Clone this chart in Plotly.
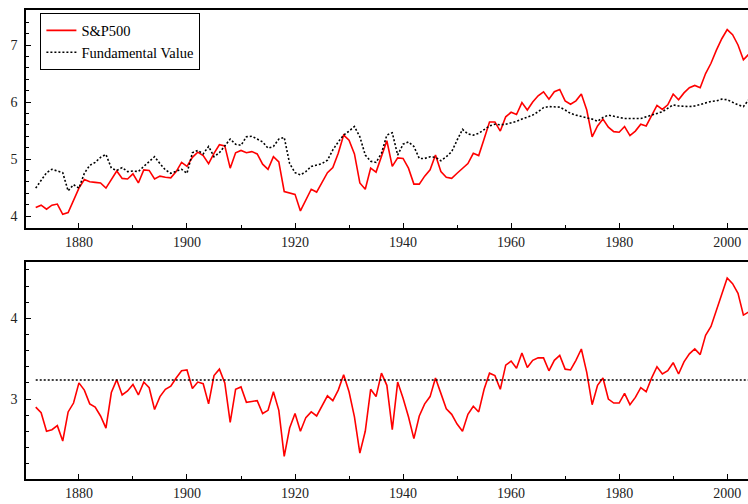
import plotly.graph_objects as go
from plotly.subplots import make_subplots

years = list(range(1872, 2005))

sp500 = [4.15, 4.19, 4.12, 4.19, 4.21, 4.03, 4.06, 4.28, 4.49, 4.64,
         4.60, 4.59, 4.58, 4.49, 4.64, 4.79, 4.66, 4.65, 4.74, 4.58,
         4.81, 4.80, 4.65, 4.70, 4.68, 4.67, 4.78, 4.94, 4.87, 5.03,
         5.12, 5.06, 4.92, 5.10, 5.25, 5.23, 4.84, 5.11, 5.15, 5.11,
         5.13, 5.09, 4.91, 4.82, 5.04, 4.95, 4.43, 4.40, 4.38, 4.09,
         4.28, 4.47, 4.42, 4.58, 4.76, 4.85, 5.10, 5.42, 5.33, 5.09,
         4.58, 4.47, 4.84, 4.77, 5.04, 5.32, 4.87, 5.02, 5.01, 4.84,
         4.56, 4.56, 4.70, 4.81, 5.07, 4.78, 4.68, 4.66, 4.75, 4.84,
         4.92, 5.10, 5.06, 5.35, 5.65, 5.65, 5.49, 5.74, 5.82, 5.78,
         5.99, 5.86, 6.00, 6.11, 6.18, 6.05, 6.18, 6.22, 6.02, 5.96,
         6.02, 6.14, 5.86, 5.39, 5.58, 5.70, 5.56, 5.48, 5.47, 5.57,
         5.41, 5.49, 5.61, 5.58, 5.77, 5.94, 5.87, 5.95, 6.14, 6.04,
         6.16, 6.25, 6.29, 6.25, 6.50, 6.68, 6.91, 7.11, 7.27, 7.18,
         7.00, 6.74, 6.84]

fundamental = [4.49, 4.62, 4.76, 4.82, 4.79, 4.76, 4.44, 4.55, 4.49, 4.75,
               4.89, 4.94, 5.03, 5.08, 4.84, 4.80, 4.85, 4.78, 4.79, 4.78,
               4.87, 4.95, 5.04, 4.92, 4.81, 4.75, 4.79, 4.82, 4.75, 5.11,
               5.15, 5.09, 5.22, 5.04, 5.11, 5.23, 5.35, 5.26, 5.24, 5.39,
               5.40, 5.35, 5.30, 5.19, 5.22, 5.35, 5.38, 4.92, 4.76, 4.72,
               4.78, 4.87, 4.89, 4.92, 4.98, 5.16, 5.30, 5.42, 5.49, 5.57,
               5.39, 5.07, 4.96, 4.94, 5.10, 5.42, 5.46, 5.07, 5.26, 5.30,
               5.22, 5.01, 5.01, 5.04, 5.03, 4.97, 5.04, 5.13, 5.33, 5.52,
               5.44, 5.42, 5.45, 5.51, 5.58, 5.61, 5.60, 5.61, 5.63, 5.66,
               5.70, 5.73, 5.77, 5.83, 5.90, 5.92, 5.92, 5.91, 5.86, 5.80,
               5.77, 5.75, 5.73, 5.70, 5.66, 5.73, 5.77, 5.75, 5.73, 5.71,
               5.71, 5.71, 5.71, 5.74, 5.77, 5.80, 5.83, 5.89, 5.95, 5.93,
               5.92, 5.92, 5.93, 5.96, 5.98, 6.01, 6.02, 6.05, 6.04, 5.99,
               5.95, 5.92, 6.04]

ratio = [2.90, 2.83, 2.60, 2.62, 2.67, 2.48, 2.84, 2.95, 3.20, 3.11,
         2.94, 2.90, 2.79, 2.64, 3.08, 3.24, 3.05, 3.10, 3.18, 3.05,
         3.21, 3.14, 2.87, 3.03, 3.12, 3.16, 3.26, 3.35, 3.36, 3.13,
         3.21, 3.19, 2.94, 3.29, 3.37, 3.20, 2.71, 3.12, 3.15, 2.96,
         2.97, 2.98, 2.82, 2.86, 3.09, 2.86, 2.29, 2.64, 2.82, 2.60,
         2.77, 2.84, 2.79, 2.91, 3.04, 2.98, 3.11, 3.30, 3.09, 2.78,
         2.33, 2.60, 3.12, 3.03, 3.32, 3.17, 2.62, 3.21, 3.01, 2.78,
         2.51, 2.79, 2.94, 3.03, 3.26, 3.07, 2.88, 2.81, 2.69, 2.60,
         2.81, 2.91, 2.84, 3.12, 3.32, 3.29, 3.12, 3.42, 3.47, 3.38,
         3.57, 3.39, 3.48, 3.51, 3.51, 3.35, 3.48, 3.54, 3.37, 3.36,
         3.48, 3.62, 3.33, 2.93, 3.17, 3.26, 3.00, 2.95, 2.95, 3.07,
         2.93, 3.02, 3.14, 3.09, 3.26, 3.40, 3.31, 3.35, 3.45, 3.31,
         3.46, 3.56, 3.62, 3.55, 3.79, 3.90, 4.11, 4.29, 4.50, 4.43,
         4.31, 4.04, 4.08]

ratio_mean = 3.235
mean_span = [1872, 2004]

W, H = 748, 504
mt, mb, ml, mr = 10, 25, 26, 0
ph = H - mt - mb
top_dom = [(479 - 228) / ph, 1.0]
bot_dom = [0.0, (479 - 262.3) / ph]

fig = make_subplots(rows=2, cols=1)

fig.add_trace(go.Scatter(x=years, y=sp500, mode="lines", name="S&P500",
                         line=dict(color="#ff0000", width=1.6)), row=1, col=1)
fig.add_trace(go.Scatter(x=years, y=fundamental, mode="lines", name="Fundamental Value",
                         line=dict(color="black", width=1.6, dash="2px,2px")), row=1, col=1)
fig.add_trace(go.Scatter(x=years, y=ratio, mode="lines", showlegend=False,
                         line=dict(color="#ff0000", width=1.6)), row=2, col=1)
fig.add_trace(go.Scatter(x=mean_span, y=[ratio_mean, ratio_mean], mode="lines", showlegend=False,
                         line=dict(color="black", width=1.6, dash="2px,2px")), row=2, col=1)

font = dict(family="Liberation Serif, Times New Roman, serif", size=14, color="#222")

xcommon = dict(range=[1870.2, 2003.85], tickvals=[1880, 1900, 1920, 1940, 1960, 1980, 2000],
               ticks="inside", ticklen=5, tickwidth=1.2, tickcolor="black",
               showline=True, linecolor="black", linewidth=1.6, mirror=True,
               showgrid=False, zeroline=False, tickfont=font,
               minor=dict(tickvals=[1890, 1910, 1930, 1950, 1970, 1990], ticks="inside",
                          ticklen=3, tickwidth=1.2, tickcolor="black"))
fig.update_xaxes(**xcommon, domain=[0, 1])
fig.update_yaxes(ticks="inside", ticklen=5, tickwidth=1.2, tickcolor="black",
                 showline=True, linecolor="black", linewidth=1.6, mirror=False,
                 showgrid=False, zeroline=False, tickfont=font, ticklabelstandoff=4)
fig.update_yaxes(range=[3.79, 7.614], tickvals=[4, 5, 6, 7], domain=top_dom,
                 minor=dict(dtick=0.2, tick0=4, ticks="inside", ticklen=3, tickwidth=1.2,
                            tickcolor="black"), row=1, col=1)
fig.update_yaxes(range=[2.009, 4.694], tickvals=[3, 4], domain=bot_dom,
                 minor=dict(dtick=0.2, tick0=3, ticks="inside", ticklen=3, tickwidth=1.2,
                            tickcolor="black"), row=2, col=1)

fig.update_layout(
    width=W, height=H, margin=dict(l=ml, r=mr, t=mt, b=mb),
    paper_bgcolor="white", plot_bgcolor="white", font=font,
    legend=dict(x=(40 - ml) / (W - ml - mr), y=1 - (13 - mt) / ph, xanchor="left", yanchor="top",
                xref="paper", yref="paper",
                bgcolor="white", bordercolor="black", borderwidth=1.4,
                font=dict(family="Liberation Serif, Times New Roman, serif", size=14.5, color="black"),
                tracegroupgap=0, itemwidth=30),
    showlegend=True,
)

fig.write_html("out.html")
